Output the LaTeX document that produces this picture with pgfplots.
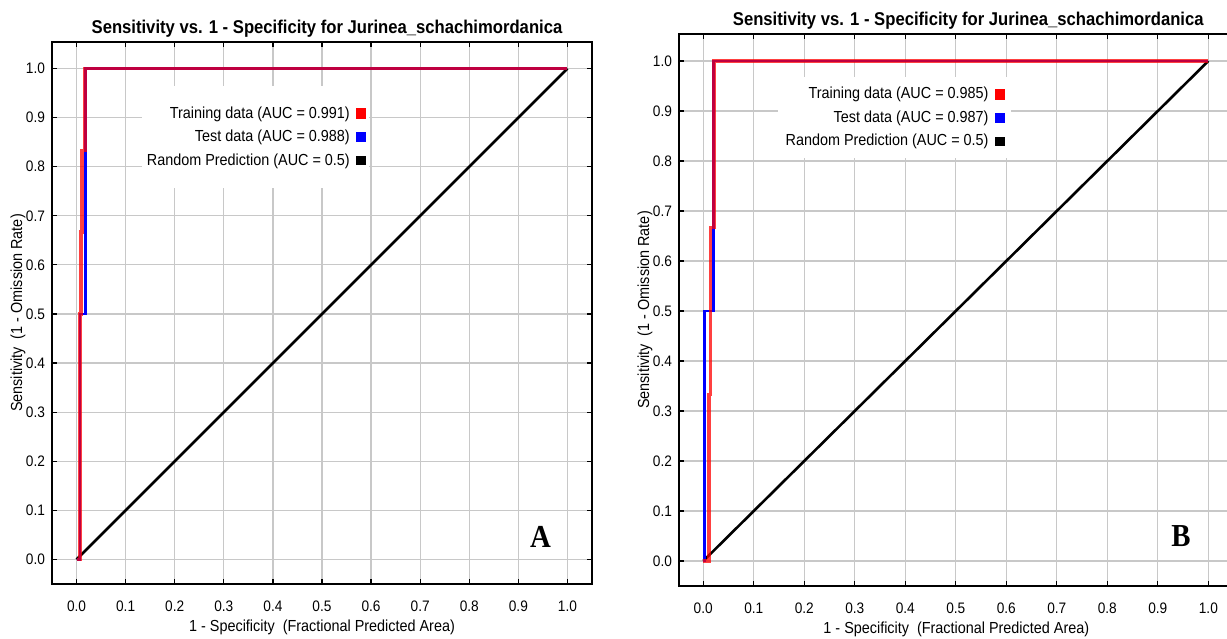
\documentclass[border=0pt]{standalone}
\usepackage{fontspec}
\setmainfont{Liberation Sans}[FakeStretch=0.9]
\newfontfamily\panelfont{Liberation Serif}[FakeStretch=0.9]
\usepackage{pgfplots}
\pgfplotsset{compat=1.18}
\definecolor{gridgray}{RGB}{200,200,200}

\pgfplotsset{
  rocaxis/.style={
    scale only axis,
    anchor=south west,
    xmin=-0.05, xmax=1.05,
    ymin=-0.05, ymax=1.054,
    xtick={0,0.1,0.2,0.3,0.4,0.5,0.6,0.7,0.8,0.9,1},
    ytick={0,0.1,0.2,0.3,0.4,0.5,0.6,0.7,0.8,0.9,1},
    /pgf/number format/assume math mode=true,
    xticklabel style={/pgf/number format/fixed, /pgf/number format/fixed zerofill,
      /pgf/number format/precision=1, yshift=-5pt},
    yticklabel style={/pgf/number format/fixed, /pgf/number format/fixed zerofill,
      /pgf/number format/precision=1},
    tick label style={font=\fontsize{7.6}{9}\selectfont},
    grid=major,
    major grid style={gridgray, line width=0.6pt},
    tick align=inside,
    major tick length=2.5pt,
    tick style={black, line width=0.6pt},
    axis line style={black, line width=1pt},
    title={\bfseries Sensitivity vs. 1 - Specificity for Jurinea\_schachimordanica},
    title style={font=\fontsize{9.25}{11}\selectfont, at={(axis description cs:0.5,1)},
      anchor=center, yshift=0.5pt},
    xlabel={1 - Specificity\ \ (Fractional Predicted Area)},
    ylabel={Sensitivity\ \ (1 - Omission Rate)},
    label style={font=\fontsize{8}{9.5}\selectfont},
    xlabel style={at={(axis description cs:0.5,0)}, anchor=center, yshift=-21.5pt},
    ylabel style={at={(axis description cs:0,0.5)}, anchor=center, rotate=0, yshift=17pt},
    reverse legend=true,
    legend cell align=right,
    legend plot pos=right,
    legend style={draw=none, fill=white, font=\fontsize{8}{9.5}\selectfont,
      anchor=north east, row sep=1.25pt, column sep=2pt,
      nodes={inner sep=1pt, text height=6.5pt, text depth=2pt}},
  },
  randline/.style={black, line width=1.3pt,
    legend image code/.code={\fill[black] (0pt,-1.75pt) rectangle (3.5pt,1.75pt);}},
  testline/.style={blue, line width=1.45pt,
    legend image code/.code={\fill[blue] (0pt,-1.75pt) rectangle (3.5pt,1.75pt);}},
  trainline/.style={red, line width=1.7pt, opacity=0.75,
    legend image code/.code={\fill[red, opacity=1] (0pt,-1.75pt) rectangle (3.5pt,1.75pt);}},
}

\begin{document}
\begin{tikzpicture}
\path[use as bounding box] (0,0) rectangle (613.5pt,319pt);

% panel A
\begin{axis}[rocaxis,
  at={(26pt,27pt)}, width=270pt, height=271pt,
  title style={xshift=2.5pt},
  legend style={at={(axis cs:0.597,0.965)}, inner xsep=1.5pt, inner ysep=8.5pt},
]
\addplot[randline] coordinates {(0,0) (1,1)};
\addlegendentry{Random Prediction (AUC = 0.5)}
\addplot[testline] coordinates {
  (0,0) (0.007,0) (0.007,0.5) (0.018,0.5) (0.018,1) (1,1)
};
\addlegendentry{Test data (AUC = 0.988)}
\addplot[trainline] coordinates {
  (0,0) (0.007,0) (0.007,0.5) (0.009,0.5) (0.009,0.667) (0.011,0.667)
  (0.011,0.833) (0.017,0.833) (0.017,1) (1,1)
};
\addlegendentry{Training data (AUC = 0.991)}
\node[font={\fontsize{16}{16}\panelfont\bfseries}] at (axis cs:0.945,0.045) {A};
\end{axis}

% panel B
\begin{axis}[rocaxis,
  at={(339.5pt,26pt)}, width=277.3pt, height=276pt,
  xmin=-0.048,
  title style={xshift=6pt},
  legend style={at={(axis cs:0.61,0.968)}, inner xsep=3pt, inner ysep=3.25pt},
]
\addplot[randline] coordinates {(0,0) (1,1)};
\addlegendentry{Random Prediction (AUC = 0.5)}
\addplot[testline] coordinates {
  (0,0) (0.003,0) (0.003,0.5) (0.021,0.5) (0.021,1) (1,1)
};
\addlegendentry{Test data (AUC = 0.987)}
\addplot[trainline] coordinates {
  (0,0) (0.011,0) (0.011,0.333) (0.014,0.333) (0.014,0.667) (0.021,0.667)
  (0.021,1) (1,1)
};
\addlegendentry{Training data (AUC = 0.985)}
\node[font={\fontsize{16}{16}\panelfont\bfseries}] at (axis cs:0.946,0.05) {B};
\end{axis}
\end{tikzpicture}
\end{document}
